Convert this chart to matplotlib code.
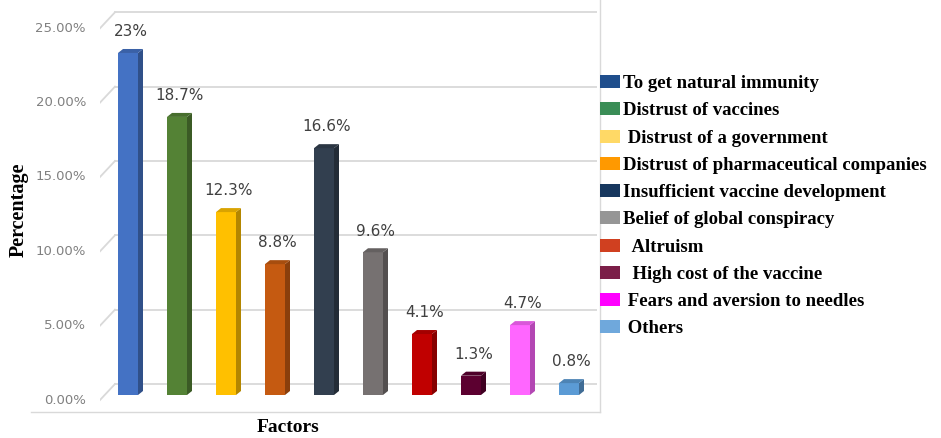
import matplotlib.pyplot as plt
import numpy as np
from matplotlib.patches import Polygon, Patch
from matplotlib.lines import Line2D
from matplotlib.colors import to_rgb

# Data
factors = ["To get natural immunity", "Distrust of vaccines", " Distrust of a government",
           "Distrust of pharmaceutical companies", "Insufficient vaccine development",
           "Belief of global conspiracy", "  Altruism", "  High cost of the vaccine",
           " Fears and aversion to needles", " Others"]
values = [23, 18.7, 12.3, 8.8, 16.6, 9.6, 4.1, 1.3, 4.7, 0.8]
value_labels = ["23%", "18.7%", "12.3%", "8.8%", "16.6%", "9.6%", "4.1%", "1.3%", "4.7%", "0.8%"]
yticks = [0, 5, 10, 15, 20, 25]
ytick_labels = ["0.00%", "5.00%", "10.00%", "15.00%", "20.00%", "25.00%"]

bar_colors = ["#4472C4", "#548235", "#FFC000", "#C55A11", "#323F4F",
              "#767171", "#C00000", "#5C0030", "#FF66FF", "#5B9BD5"]
legend_colors = ["#1F4E8C", "#3A8D56", "#FFD966", "#FF9900", "#17375E",
                 "#969696", "#D04020", "#7B1E48", "#FF00FF", "#6FA8DC"]

W, H = 941, 438
fig = plt.figure(figsize=(W / 100, H / 100), dpi=100)

# axes placed in pixel terms
px_x = 49.0      # pixels per bar slot
px_y = 14.87     # pixels per percent
x0_pix, base_pix = 128, 395
ax_l, ax_r, ax_t, ax_b = 100, 597, 5, 412
ax = fig.add_axes([ax_l / W, 1 - ax_b / H, (ax_r - ax_l) / W, (ax_b - ax_t) / H])
ax.set_xlim((ax_l - x0_pix) / px_x, (ax_r - x0_pix) / px_x)
ax.set_ylim((base_pix - ax_b) / px_y, (base_pix - ax_t) / px_y)
ax.axis("off")

# pseudo-3d gridlines (back wall + diagonal floor edge)
xl = (ax_l - x0_pix) / px_x
xb = (115 - x0_pix) / px_x
front_off = -5 / px_y
back_off = 11 / px_y
for v, lab in zip(yticks, ytick_labels):
    ax.plot([xb, (ax_r - x0_pix) / px_x], [v + back_off] * 2, color="#D9D9D9", lw=1.3, zorder=0)
    ax.plot([xl, xb], [v + front_off, v + back_off], color="#D9D9D9", lw=1.3, zorder=0)
    ax.text((86 - x0_pix) / px_x, v + front_off, lab, ha="right", va="center",
            fontsize=9.5, color="#808080", clip_on=False)

# bars with side and top faces
x = np.arange(len(values))
w = 20 / px_x
ddx, ddy = 5 / px_x, 4 / px_y


def shade(c, f):
    r, g, b = to_rgb(c)
    return (r * f, g * f, b * f)


ax.bar(x, values, width=w, color=bar_colors, zorder=3)
for xi, v, c, lab in zip(x, values, bar_colors, value_labels):
    side = Polygon([(xi + w / 2, 0), (xi + w / 2 + ddx, ddy), (xi + w / 2 + ddx, v + ddy), (xi + w / 2, v)],
                   closed=True, facecolor=shade(c, 0.7), edgecolor="none", zorder=3)
    top = Polygon([(xi - w / 2, v), (xi + w / 2, v), (xi + w / 2 + ddx, v + ddy), (xi - w / 2 + ddx, v + ddy)],
                  closed=True, facecolor=shade(c, 0.85), edgecolor="none", zorder=3)
    ax.add_patch(side)
    ax.add_patch(top)
    ax.annotate(lab, (xi + ddx / 2, v + ddy), xytext=(0, 7), textcoords="offset points",
                ha="center", va="bottom", fontsize=11, color="#404040")

# chart frame lines
fig.add_artist(Line2D([31 / W, 600 / W], [1 - 412 / H] * 2, color="#D9D9D9", lw=1))
fig.add_artist(Line2D([600 / W, 600 / W], [1 - 412 / H, 1], color="#D9D9D9", lw=1))

# axis titles
fig.text(19 / W, 1 - 210 / H, "Percentage", rotation=90, ha="center", va="center",
         fontsize=14.5, fontweight="bold", family="Liberation Serif")
fig.text(288 / W, 1 - 428 / H, "Factors", ha="center", va="center",
         fontsize=14, fontweight="bold", family="Liberation Serif")

# legend
handles = [Patch(facecolor=c, edgecolor="none") for c in legend_colors]
fig.legend(handles, factors, loc="upper left", bbox_to_anchor=(600 / W, 1 - 75 / H),
           frameon=False, borderpad=0, borderaxespad=0, handlelength=1.07, handleheight=0.7,
           handletextpad=0.15, labelspacing=0.54,
           prop={"family": "Liberation Serif", "weight": "bold", "size": 13.5})

plt.savefig("out.png", dpi=100)
